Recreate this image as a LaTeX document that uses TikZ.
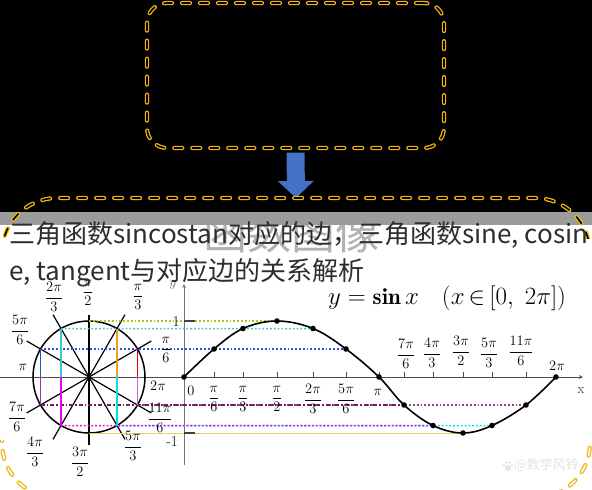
\documentclass[tikz,border=0pt]{standalone}
\usepackage{fontspec}
\usepackage{amsmath}
\newfontfamily\cjk{Noto Sans CJK SC}
\usetikzlibrary{arrows.meta,calc}

\definecolor{frameyellow}{RGB}{240,182,16}
\definecolor{arrowblue}{RGB}{68,114,196}
\definecolor{bandgray}{RGB}{155,155,155}
\definecolor{titlegray}{RGB}{45,45,45}
\definecolor{lvlone}{RGB}{170,200,20}
\definecolor{lvlteal}{RGB}{60,200,200}
\definecolor{lvlblue}{RGB}{40,80,220}
\definecolor{lvlpurple}{RGB}{110,30,100}
\definecolor{lvlviolet}{RGB}{150,60,150}
\definecolor{lvlmagenta}{RGB}{240,0,240}
\definecolor{lvlcyan}{RGB}{0,225,230}
\definecolor{lvlkhaki}{RGB}{230,205,110}
\definecolor{segred}{RGB}{220,0,0}
\definecolor{segorange}{RGB}{240,160,30}
\definecolor{seglilac}{RGB}{180,120,190}

\begin{document}
\begin{tikzpicture}[x=1pt, y=-1pt, >=stealth,
  frame/.style={draw=frameyellow, line width=1.3pt, double=black, double distance=1.6pt,
    dash pattern=on 8pt off 10pt, line cap=round},
  blockarrow/.style={arrowblue, line width=18pt, -{Triangle[width=35pt,length=17pt]}},
  axis/.style={draw=black!70, line width=0.8pt},
  spoke/.style={line width=1.2pt},
  level/.style={line width=1.5pt, dash pattern=on 1.8pt off 2pt},
  seg/.style={line width=1.6pt},
  frac/.style={font=\fontsize{14}{16}\selectfont, inner sep=0},
  title/.style={font=\cjk\fontsize{26}{30}\selectfont, text=titlegray, inner sep=0, anchor=base west}]
\useasboundingbox (0,0) rectangle (592,490);
\fill[black] (0,0) rectangle (592,490);
\fill[white] (0,225) rectangle (592,490);

% faint watermark behind the title
\begin{scope}
  \clip (0,225) rectangle (592,490);
  \node[font=\cjk\fontsize{44}{44}\selectfont, text=gray!60, anchor=base west, inner sep=0] (wm) at (203,249) {函数图像};
\end{scope}

% upper box and arrow
\node[frame, rounded corners=20pt, minimum width=297pt, minimum height=145pt, inner sep=0] (upper) at (295.5,75.5) {};
\coordinate (lowtop) at (296,198);
\draw[blockarrow, shorten <=4pt] (upper.south) -- (lowtop);

% unit circle
\coordinate (O) at (89,377);
\foreach \a in {30,60,90,120,150,210,240,270,300,330}
  \coordinate (c\a) at ($(O)+(-\a:56)$);
\coordinate (xl) at (0,377);
\coordinate (xr) at (583,377);
\coordinate (yb) at (184,465);
\coordinate (yt) at (184,284);
\draw[axis,->] (xl) -- (xr);
\draw[axis, draw=black!55,->] (yb) -- (yt);
\foreach \a in {30,60,120,150}
  \draw[spoke] ($(O)+(\a:72)$) -- ($(O)+(\a+180:72)$);
\draw[spoke] ($(O)+(0,-62)$) -- ($(O)+(0,68)$);
\draw[line width=1.5pt] (O) circle[radius=56];

% graph points
\coordinate (g0) at (184,377);
\coordinate (g1) at (214,349);
\coordinate (g2) at (243,328.5);
\coordinate (g3) at (277,321);
\coordinate (g4) at (313,328.5);
\coordinate (g5) at (346,349);
\coordinate (g6) at (379,377);
\coordinate (g7) at (404,405);
\coordinate (g8) at (433,425.5);
\coordinate (g9) at (463,433);
\coordinate (g10) at (492,425.5);
\coordinate (g11) at (526,405);
\coordinate (g12) at (556,377);

% levels carried over to the graph
\draw[level, lvlone] (c90) -- (g3);
\draw[level, lvlteal] (c120) -- (g4);
\draw[level, lvlblue] (c150) -- (g5);
\draw[level, lvlviolet, dash phase=2pt] (c330) -- (g11);
\draw[level, lvlpurple, dash pattern=on 4pt off 2pt on 1.5pt off 2pt] (c210) -- (g7);
\draw[level, lvlcyan, dash phase=2pt] (c300) -- (g10);
\draw[level, lvlmagenta] (c240) -- (g8);
\draw[lvlkhaki, line width=1pt] (c270) -- (g9);
\draw[black!75, line width=1.5pt] (184,321) -- (195,321);
\draw[black!75, line width=1.5pt] (184,433) -- (195,433);

% sine lines in the circle
\draw[seg, segred] (c30) -- (c30 |- O);
\draw[seg, segorange] (c60) -- (c60 |- O);
\draw[seg, lvlteal] (c120) -- (c120 |- O);
\draw[seg, lvlblue] (c150) -- (c150 |- O);
\draw[seg, lvlviolet] (c210) -- (c210 |- O);
\draw[seg, lvlmagenta] (c240) -- (c240 |- O);
\draw[seg, lvlcyan] (c300) -- (c300 |- O);
\draw[seg, seglilac] (c330) -- (c330 |- O);

% sine curve
\foreach \i in {1,...,11}
  \draw[axis] (g\i |- O) -- ++(0,-5);
\draw[line width=1.6pt] plot[smooth, tension=0.6] coordinates {(g0) (g1) (g2) (g3) (g4) (g5) (g6) (g7) (g8) (g9) (g10) (g11) (g12)};
\foreach \i in {0,...,12}
  \fill (g\i) circle[radius=2.8];

% angle labels round the circle
\foreach \x/\y/\t [count=\k] in {88/293/\dfrac{\pi}{2}, 54/297/\dfrac{2\pi}{3}, 138/297/\dfrac{\pi}{3},
    20/330/\dfrac{5\pi}{6}, 23/367/\pi, 166/350/\dfrac{\pi}{6}, 158/386/2\pi,
    17/417/\dfrac{7\pi}{6}, 160/418/\dfrac{11\pi}{6}, 35/452/\dfrac{4\pi}{3},
    80/462/\dfrac{3\pi}{2}, 133/446/\dfrac{5\pi}{3}}
  \node[frac] (cl\k) at (\x,\y) {$\t$};

% tick labels of the graph
\foreach \x/\y/\t [count=\k] in {191/391/0, 214/399/\dfrac{\pi}{6}, 243/399/\dfrac{\pi}{3},
    277/399/\dfrac{\pi}{2}, 313/399/\dfrac{2\pi}{3}, 346/399/\dfrac{5\pi}{6}, 378/392/\pi,
    406/354/\dfrac{7\pi}{6}, 432/353/\dfrac{4\pi}{3}, 461/351/\dfrac{3\pi}{2},
    489/353/\dfrac{5\pi}{3}, 521/351/\dfrac{11\pi}{6}, 557/366/2\pi}
  \node[frac] (gl\k) at (\x,\y) {$\t$};
\node[frac, font=\fontsize{15}{17}\selectfont] (one) at (176,322) {1};
\node[frac, font=\fontsize{15}{17}\selectfont] (mone) at (172,442) {-1};
\node[frac, text=black!55] (ylab) at (173,285) {$y$};
\node[frac, text=black!70] (xlab) at (581,390) {x};
\node[font=\fontsize{23}{26}\selectfont, anchor=base west, inner sep=0] (formula) at (328,304)
  {$y=\mathbf{sin}\,x\quad(x\,{\in}\,[0,\;2\pi])$};

% signature
\fill[gray!20] (508,468) circle[radius=3.2];
\foreach \dx/\dy in {-4/-3, -1.5/-5.5, 1.5/-5.5, 4/-3}
  \fill[gray!20] ($(508,468)+(\dx,\dy)$) circle[radius=1.3];
\node[font=\cjk\fontsize{13}{13}\selectfont, text=gray!22, anchor=west, inner sep=0] (sig) at (514,465) {@数学风铃};

% title band and lower box
\fill[bandgray] (0,212) rectangle (592,225);
\begin{scope}
  \clip (0,0) rectangle (592,238);
  \draw[frame] (2,198) [rounded corners=55pt] rectangle (590,498);
\end{scope}
\begin{scope}
  \clip (0,440) rectangle (592,490);
  \draw[frame, double=white] (2,198) [rounded corners=55pt] rectangle (590,498);
\end{scope}
\node[title] (t1) at (9,243) {三角函数sincostan对应的边，三角函数sine, cosin};
\node[title] (t2) at (9,280) {e, tangent与对应边的关系解析};
\end{tikzpicture}
\end{document}
